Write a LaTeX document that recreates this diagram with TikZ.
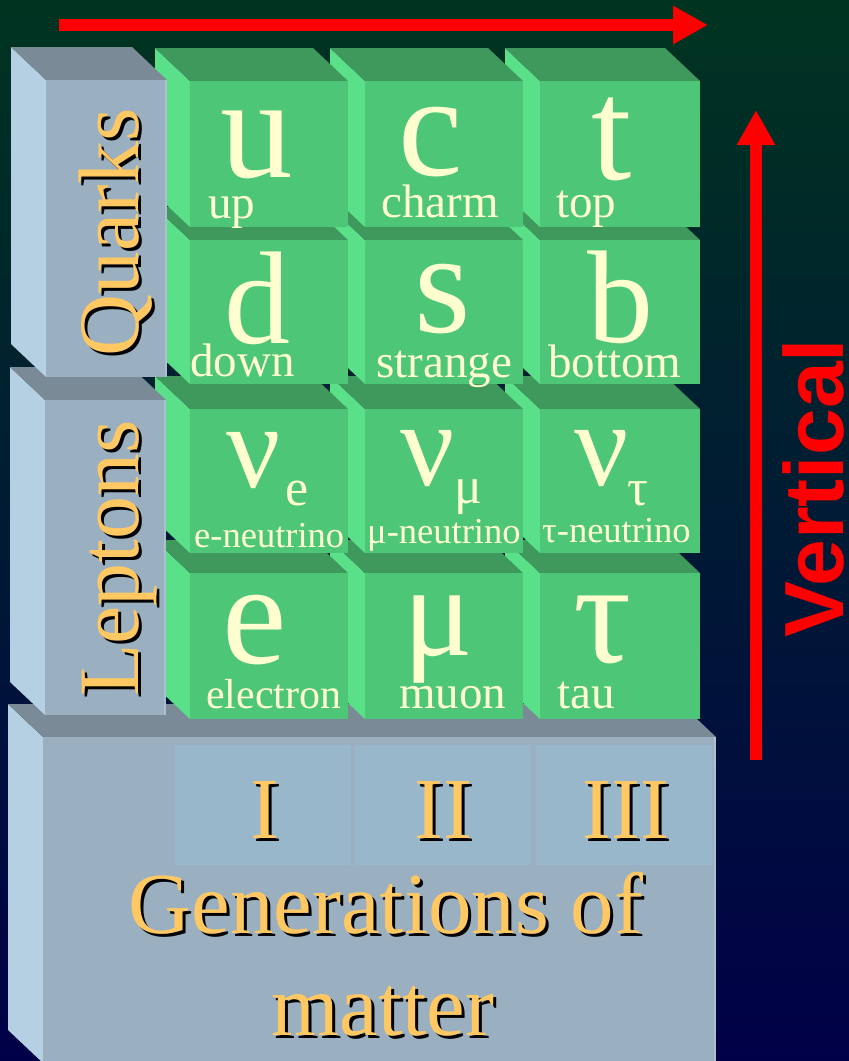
\documentclass[tikz,border=0pt]{standalone}
\usepackage{fontspec}
\setmainfont{Liberation Serif}
\newfontfamily\headsans{Liberation Sans}
\usetikzlibrary{arrows.meta,calc}

\definecolor{bgtop}{RGB}{0,52,32}
\definecolor{bgmid}{RGB}{0,34,58}
\definecolor{bgbot}{RGB}{0,0,72}
\definecolor{cubefront}{RGB}{78,198,119}
\definecolor{cubeside}{RGB}{90,224,136}
\definecolor{cubetop}{RGB}{63,153,93}
\definecolor{slabfront}{RGB}{154,176,192}
\definecolor{slabside}{RGB}{180,208,226}
\definecolor{slabtop}{RGB}{122,138,150}
\definecolor{slabcell}{RGB}{152,183,203}
\definecolor{slabedge}{RGB}{170,192,208}
\definecolor{cream}{RGB}{255,255,208}
\definecolor{gold}{RGB}{255,200,98}
\definecolor{arrowred}{RGB}{255,0,0}

% a box seen from the upper left: front face, left face and top face
% arguments: x0, y0, x1, y1 of the front face, then the three fill colours
\newcommand{\prism}[7]{%
  \fill[#6] (#1-35,#2-33) -- (#1,#2) -- (#1,#4) -- (#1-35,#4-33) -- cycle;
  \fill[#7] (#1-35,#2-33) -- (#1,#2) -- (#3,#2) -- (#3-35,#2-33) -- cycle;
  \fill[#5] (#1,#2) rectangle (#3,#4);
}
\newcommand{\greencube}[4]{\prism{#1}{#2}{#3}{#4}{cubefront}{cubeside}{cubetop}}
\newcommand{\greyslab}[4]{%
  \prism{#1}{#2}{#3}{#4}{slabfront}{slabside}{slabtop}
  \fill[slabedge] (#3-2,#2) rectangle (#3,#4);
}

% gold lettering with a dark drop shadow
\newcommand{\goldlabel}[4]{%
  \node[goldshadow,#3] (#1-shadow) at ($(#2)+(3,3)$) {#4};
  \node[goldfill,#3] (#1) at (#2) {#4};
}

\tikzset{
  bigsym/.style={text=cream, inner sep=0pt, anchor=base, font=\fontsize{145}{145}\selectfont},
  subsym/.style={text=cream, inner sep=0pt, anchor=base, font=\fontsize{52}{52}\selectfont},
  name47/.style={text=cream, inner sep=0pt, anchor=base west, font=\fontsize{47}{47}\selectfont},
  name36/.style={text=cream, inner sep=0pt, anchor=base west, font=\fontsize{36.5}{36.5}\selectfont},
  goldfill/.style={text=gold, inner sep=0pt},
  goldshadow/.style={text=black, inner sep=0pt},
  sidetitle/.style={rotate=90, anchor=base west, font=\fontsize{86}{86}\selectfont},
  gentitle/.style={anchor=base, font=\fontsize{87}{87}\selectfont},
  redarrow/.style={draw=arrowred, line width=12pt, -{Triangle[length=35pt,width=36pt]}},
}

\begin{document}
\begin{tikzpicture}[x=1pt,y=-1pt]
  \clip (0,0) rectangle (849,1061);
  \shade[top color=bgtop, middle color=bgmid, bottom color=bgbot] (0,0) rectangle (849,1061);

  % base slab: generations of matter
  \greyslab{43}{737}{716}{1063}
  \fill[slabcell] (175,745) rectangle (351,865);
  \fill[slabcell] (355,745) rectangle (531,865);
  \fill[slabcell] (536,745) rectangle (712,865);
  \goldlabel{genI}{265,838}{gentitle}{I}
  \goldlabel{genII}{443,838}{gentitle}{II}
  \goldlabel{genIII}{626,838}{gentitle}{III}
  \goldlabel{gentext}{386,933}{gentitle}{Generations of}
  \goldlabel{mattertext}{383,1035}{gentitle}{matter}

  % fermion cubes, back rows first
  % row 4: charged leptons
  \greencube{540}{573}{700}{719}
  \greencube{365}{573}{523}{719}
  \greencube{190}{573}{348}{719}
  % row 3: neutrinos
  \greencube{540}{409}{700}{553}
  \greencube{365}{409}{523}{553}
  \greencube{190}{409}{348}{553}
  % row 2: down-type quarks
  \greencube{540}{240}{700}{384}
  \greencube{365}{240}{523}{384}
  \greencube{190}{240}{348}{384}
  % row 1: up-type quarks
  \greencube{540}{81}{700}{227}
  \greencube{365}{81}{523}{227}
  \greencube{190}{81}{348}{227}

  % side slabs
  \greyslab{45}{400}{166}{715}
  \greyslab{46}{80}{167}{377}
  \goldlabel{leptons}{138,697}{sidetitle}{Leptons}
  \goldlabel{quarks}{138,357}{sidetitle}{Quarks}

  % quark symbols and names
  \node[bigsym] (qu) at (257,177) {u};
  \node[name47] (qun) at (208,218) {up};
  \node[bigsym] (qc) at (431,175) {c};
  \node[name47] (qcn) at (381,217) {charm};
  \node[bigsym] (qt) at (612,179) {t};
  \node[name47] (qtn) at (556,217) {top};
  \node[bigsym,font=\fontsize{132}{132}\selectfont] (qd) at (257,343) {d};
  \node[name47] (qdn) at (190,376) {down};
  \node[bigsym] (qs) at (443,332) {s};
  \node[name47] (qsn) at (376,377) {strange};
  \node[bigsym,font=\fontsize{132}{132}\selectfont] (qb) at (620,342) {b};
  \node[name47] (qbn) at (548,377) {bottom};

  % neutrinos
  \node[bigsym,font=\fontsize{120}{120}\selectfont] (nue) at (254,487) {ν};
  \node[subsym] (nuesub) at (297,505) {e};
  \node[name36] (nuen) at (194,547) {e-neutrino};
  \node[bigsym,font=\fontsize{120}{120}\selectfont] (num) at (428,485) {ν};
  \node[subsym] (numsub) at (468,503) {μ};
  \node[name36] (numn) at (367,543) {μ-neutrino};
  \node[bigsym,font=\fontsize{120}{120}\selectfont] (nut) at (602,485) {ν};
  \node[subsym] (nutsub) at (638,505) {τ};
  \node[name36] (nutn) at (542,542) {τ-neutrino};

  % charged leptons
  \node[bigsym] (le) at (255,663) {e};
  \node[name47,font=\fontsize{42}{42}\selectfont] (len) at (206,708) {electron};
  \node[bigsym,font=\fontsize{130}{130}\selectfont] (lmu) at (438,655) {μ};
  \node[name47] (lmun) at (399,708) {muon};
  \node[bigsym] (ltau) at (603,662) {τ};
  \node[name47] (ltaun) at (557,708) {tau};

  % direction arrows
  \coordinate (hstart) at (59,25);
  \coordinate (hend) at (708,25);
  \draw[redarrow] (hstart) -- (hend);
  \coordinate (vstart) at (756,760);
  \coordinate (vend) at (756,110);
  \draw[redarrow] (vstart) -- (vend);
  \node[rotate=90, anchor=base west, inner sep=0pt, text=arrowred,
        font=\headsans\bfseries\fontsize{84}{84}\selectfont] (vlabel) at (843,638) {Vertical};
\end{tikzpicture}
\end{document}
